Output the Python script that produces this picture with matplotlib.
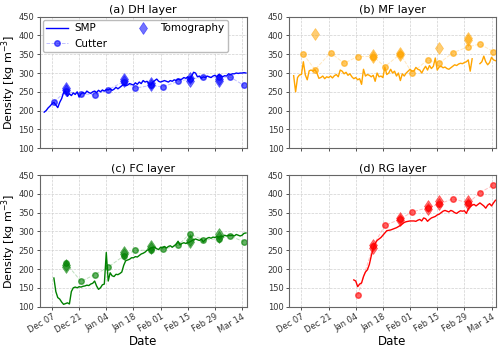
import numpy as np
import pandas as pd
import matplotlib
matplotlib.use("Agg")
import matplotlib.pyplot as plt
import matplotlib.dates as mdates
from matplotlib.colors import to_rgba

# day offsets are counted from 2019-12-07
base = pd.Timestamp("2019-12-07")

# ---- SMP, one value per day ----
dh_smp_start = -4
dh_smp = [196, 200, 207, 212, 218, 222, 215, 208, 222, 232, 248, 252, 238, 245, 240,
          247, 243, 250, 236, 245, 248, 245, 252, 248, 246, 250, 252, 248, 254, 250,
          255, 252, 256, 255, 258, 254, 257, 262, 258, 262, 266, 270, 266, 268, 272,
          270, 268, 274, 270, 276, 272, 280, 276, 278, 272, 268, 276, 280, 284, 278,
          276, 278, 280, 278, 276, 280, 278, 282, 280, 284, 282, 284, 288, 286, 290,
          282, 292, 302, 300, 290, 292, 286, 290, 288, 292, 290, 288, 292, 294, 290,
          296, 292, 290, 293, 292, 298, 296, 298, 298, 300, 299, 300, 300, 301, 300]

mf_smp_start = -4
mf_smp = [293, 250, 288, 295, 296, 330, 295, 282, 306, 308, 305, 309, 300, 286, 288,
          292, 285, 290, 288, 292, 287, 293, 296, 290, 308, 305, 298, 302, 294, 298,
          290, 285, 288, 282, 285, 270, 310, 292, 296, 294, 290, 294, 278, 300, 290,
          292, 288, 316, 296, 300, 310, 300, 305, 292, 300, 280, 298, 292, 300, 305,
          310, 305, 306, 315, 310, 308, 300, 310, 318, 308, 320, 312, 318, 340, 308,
          316, 318, 314, 316, 312, 310, 314, 318, 322, 320, 324, 326, 325, 328, 330,
          335, 305, 338, np.nan, np.nan, np.nan, 325, 330, 345, 330, 322, 328, 342, 335, 333]

fc_smp_start = 1
fc_smp = [176, 140, 124, 120, 112, 106, 108, 110, 107, 140, 150, 152, 150, 153, 152,
          154, 155, 157, 156, 160, 162, 168, 155, 146, 150, 158, 160, 244, 168, 190,
          182, 180, 186, 185, 188, 192, 210, 222, 224, 226, 230, 230, 233, 232, 236,
          240, 242, 245, 250, 252, 256, 258, 258, 254, 252, 258, 256, 260, 256, 260,
          262, 258, 262, 266, 274, 264, 268, 270, 268, 270, 272, 275, 278, 280, 278,
          276, 280, 272, 278, 282, 284, 282, 285, 284, 286, 285, 288, 286, 290, 288,
          290, 289, 290, 288, 292, 290, 288, 290, 295, 296]

rg_smp_start = 27
rg_smp = [171, 168, 153, 160, 163, 180, 192, 198, 212, 235, 255, 268, 276, 280, 284,
          290, 296, 302, 303, 304, 306, 308, 310, 313, 316, 320, 324, 326, 327, 328,
          328, 328, 327, 330, 332, 328, 336, 334, 327, 332, 336, 338, 340, 344, 346,
          350, 354, 356, 354, 352, 356, 354, 350, 348, 352, 355, 354, 355, 348, 360,
          366, 370, 372, 368, 372, 376, 372, 368, 362, 370, 374, 368, 376, 383]

# ---- Cutter ----
cut_days = [1, 7, 15, 22, 29, 37, 43, 51, 57, 65, 71, 78, 86, 92, 99]
dh_cut = [223, 251, 245, 242, 256, 277, 260, 267, 263, 278, 284, 289, 289, 289, 267]
mf_cut = [350, 309, 354, 326, 344, 344, 317, 351, 300, 335, 326, 354, 370, 377, 357]
fc_cut = [np.nan, 217, 167, 185, 205, 235, 250, 250, 252, 263, 294, 277, 281, 288, 272]
rg_cut = [np.nan, np.nan, np.nan, np.nan, 130, 262, 316, 333, 352, 363, 373, 387, 376, 403, 424]

# ---- Tomography ----
dh_tomo_days = [7, 7, 37, 37, 51, 51, 71, 71, 86, 86]
dh_tomo = [260, 254, 284, 278, 274, 268, 286, 280, 285, 278]
mf_tomo_days = [7, 37, 37, 51, 51, 71, 86, 86]
mf_tomo = [405, 348, 344, 353, 348, 367, 393, 388]
fc_tomo_days = [7, 7, 37, 37, 51, 51, 71, 71, 86, 86]
fc_tomo = [212, 206, 245, 240, 262, 255, 276, 272, 293, 286]
rg_tomo_days = [37, 37, 51, 51, 65, 65, 71, 71, 86, 86]
rg_tomo = [265, 255, 337, 330, 368, 360, 382, 374, 380, 373]

panels = [
    ("(a) DH layer", "blue", dh_smp_start, dh_smp, dh_cut, dh_tomo_days, dh_tomo),
    ("(b) MF layer", "orange", mf_smp_start, mf_smp, mf_cut, mf_tomo_days, mf_tomo),
    ("(c) FC layer", "green", fc_smp_start, fc_smp, fc_cut, fc_tomo_days, fc_tomo),
    ("(d) RG layer", "red", rg_smp_start, rg_smp, rg_cut, rg_tomo_days, rg_tomo),
]


def to_dates(days):
    return [base + pd.Timedelta(days=int(d)) for d in days]


fig, axes = plt.subplots(2, 2, figsize=(5, 3.48), dpi=100)
fig.subplots_adjust(left=0.079, right=0.992, top=0.952, bottom=0.119,
                    wspace=0.205, hspace=0.205)

xticks = to_dates([0, 14, 28, 42, 56, 70, 84, 98])

for i, (ax, (title, c, start, smp, cut, tdays, tomo)) in enumerate(zip(axes.flat, panels)):
    smp_dates = pd.date_range(base + pd.Timedelta(days=start), periods=len(smp), freq="D")
    ax.plot(smp_dates, smp, color=c, lw=1.0, label="SMP", zorder=3)
    ax.plot(to_dates(cut_days), cut, color=to_rgba(c, 0.25), lw=0.7, ls="--",
            marker="o", ms=4, markerfacecolor=to_rgba(c, 0.6),
            markeredgecolor=to_rgba(c, 0.6), label="Cutter", zorder=2)
    ax.plot(to_dates(tdays), tomo, ls="none", marker="d", ms=6.5, color=c,
            alpha=0.55, markeredgewidth=0.5, label="Tomography", zorder=4)

    ax.set_title(title, fontsize=8, pad=2.5)
    ax.set_ylim(100, 450)
    ax.set_yticks(np.arange(100, 451, 50))
    ax.set_xlim(base - pd.Timedelta(hours=154), base + pd.Timedelta(hours=2407))
    ax.set_xticks(xticks)
    ax.xaxis.set_major_formatter(mdates.DateFormatter("%b %d"))
    ax.grid(True, ls="--", lw=0.5, color="#d0d0d0")
    ax.tick_params(labelsize=6, length=2.5, width=0.6, colors="#333333", pad=1.5)
    for s in ax.spines.values():
        s.set_color("#666666")
        s.set_linewidth(0.8)

    if i < 2:
        ax.tick_params(labelbottom=False)
    else:
        plt.setp(ax.get_xticklabels(), rotation=30, ha="right", rotation_mode="anchor")
        ax.set_xlabel("Date", fontsize=8.5, labelpad=0)
    if i % 2 == 0:
        ax.set_ylabel("Density [kg m$^{-3}$]", fontsize=8)
        ax.yaxis.set_label_coords(-0.102, 0.5)

axes[0, 0].legend(loc="upper left", ncol=2, fontsize=7.5, frameon=True,
                  borderpad=0.35, labelspacing=0.5, handlelength=2.1,
                  handletextpad=0.6, columnspacing=2.4, borderaxespad=0.3,
                  framealpha=1, edgecolor="#bbbbbb", fancybox=True)

fig.savefig("out.png", dpi=100)
